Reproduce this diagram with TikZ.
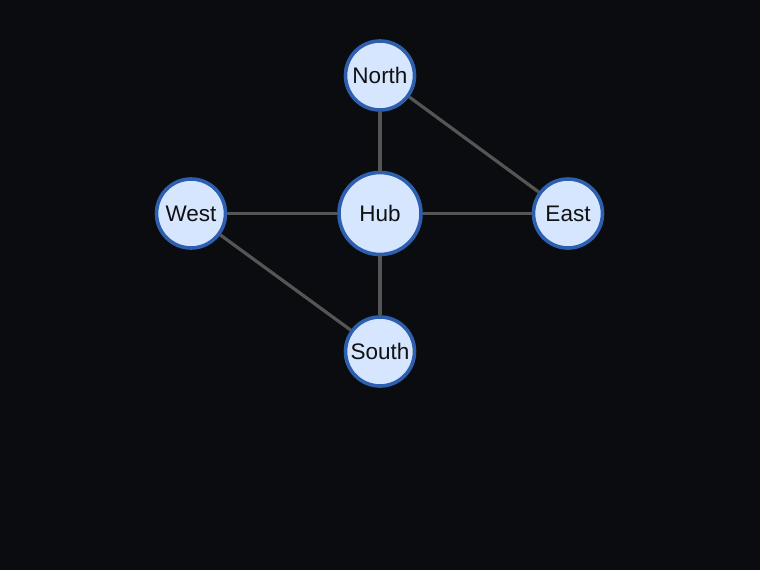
\documentclass[tikz,border=0pt]{standalone}
\usepackage{fontspec}
\setmainfont{Liberation Sans}
\definecolor{bg}{HTML}{0B0C10}
\definecolor{nodefill}{HTML}{D6E6FF}
\definecolor{nodeline}{HTML}{2E5FAE}
\definecolor{edgecol}{HTML}{555555}
\definecolor{txt}{HTML}{111111}
\begin{document}
\begin{tikzpicture}[x=1pt,y=-1pt,
  vnode/.style={circle,draw=nodeline,fill=nodefill,line width=3.6pt,inner sep=0pt,
    minimum size=69pt,text=txt,font=\fontsize{22.5}{26}\selectfont},
  hubnode/.style={vnode,minimum size=82pt},
  edge/.style={draw=edgecol,line width=3.2pt}]
\fill[bg] (0,0) rectangle (760,570);
\useasboundingbox (0,0) rectangle (760,570);
\node[vnode] (north) at (380,75.5) {North};
\node[hubnode] (hub) at (380,213.5) {Hub};
\node[vnode] (west) at (191,213.5) {West};
\node[vnode] (east) at (568,213.5) {East};
\node[vnode] (south) at (380,351.5) {South};
\draw[edge] (north) -- (hub);
\draw[edge] (north) -- (east);
\draw[edge] (west) -- (hub);
\draw[edge] (hub) -- (east);
\draw[edge] (hub) -- (south);
\draw[edge] (west) -- (south);
\end{tikzpicture}
\end{document}
